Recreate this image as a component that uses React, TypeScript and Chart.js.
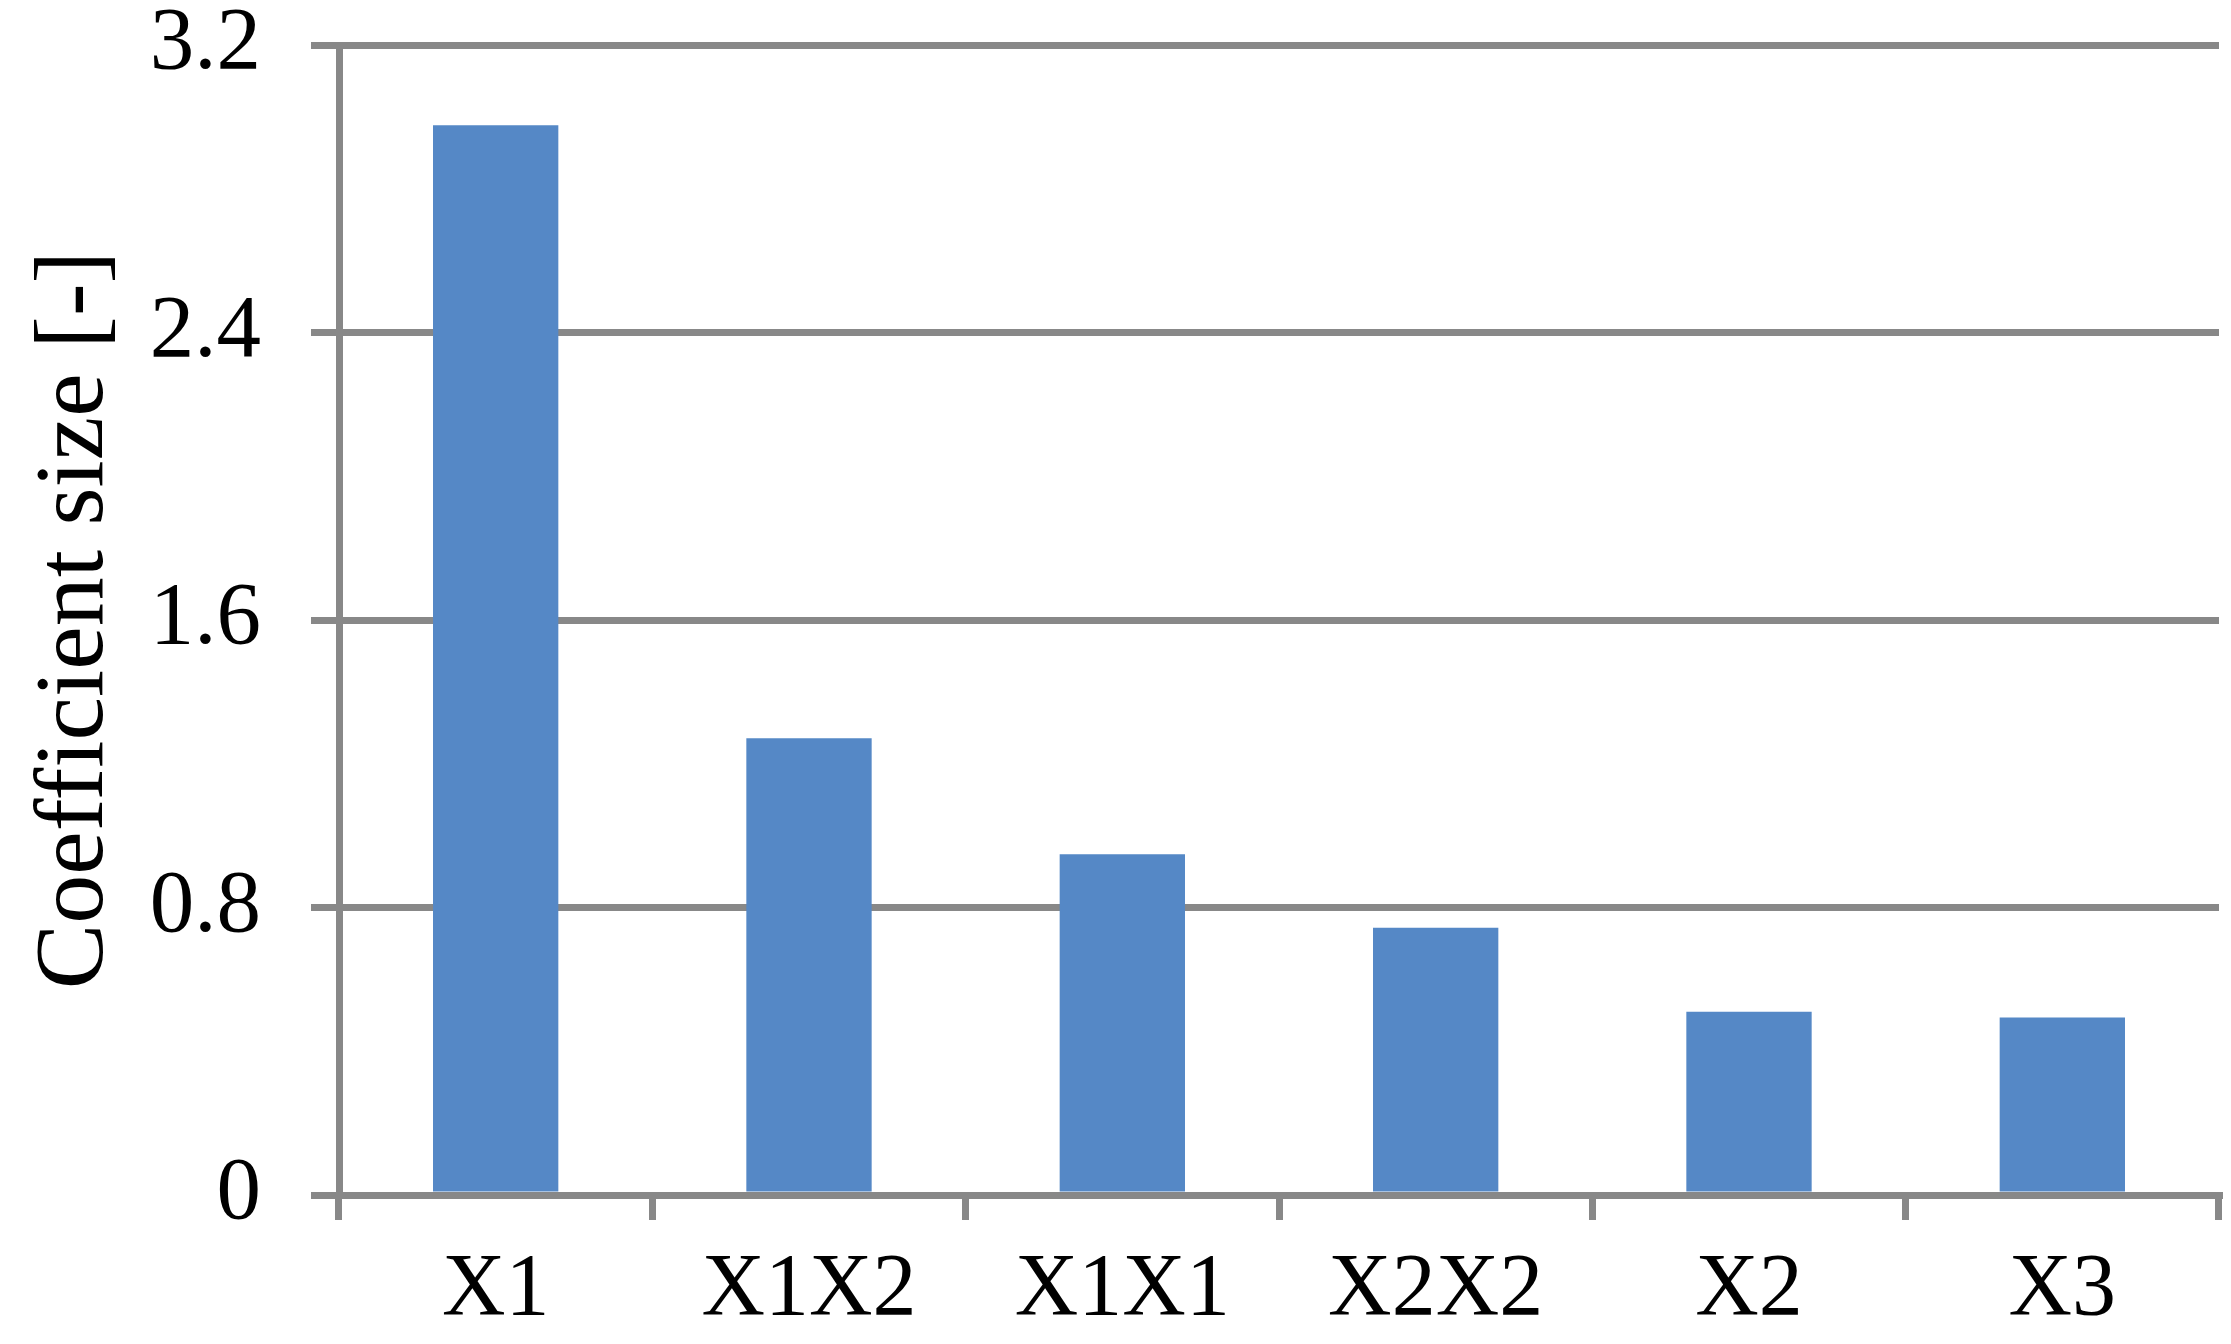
import React, { useEffect, useRef } from "react";
import { Chart, registerables } from "chart.js";

Chart.register(...registerables);

const categories = ["X1", "X1X2", "X1X1", "X2X2", "X2", "X3"];
const coefficientValues = [2.977, 1.271, 0.948, 0.744, 0.51, 0.494];
const yTickValues = [0, 0.8, 1.6, 2.4, 3.2];

const GRID = "#888888";
const BAR = "#5588C6";
const FONT = "'Liberation Serif', 'Times New Roman', serif";

export default function App() {
  const ref = useRef<HTMLCanvasElement | null>(null);

  useEffect(() => {
    if (!ref.current) return;
    const chart = new Chart(ref.current, {
      type: "bar",
      data: {
        labels: categories,
        datasets: [
          {
            data: coefficientValues,
            backgroundColor: BAR,
            borderWidth: 0,
            barPercentage: 0.4,
            categoryPercentage: 1,
          },
        ],
      },
      options: {
        responsive: false,
        animation: false,
        devicePixelRatio: 1,
        layout: { padding: { top: 45, right: 12, left: 0, bottom: 0 } },
        plugins: {
          legend: { display: false },
          tooltip: { enabled: false },
          title: { display: false },
        },
        scales: {
          x: {
            type: "category",
            grid: {
              display: true,
              drawOnChartArea: false,
              drawTicks: true,
              tickLength: 25,
              color: GRID,
              lineWidth: 7,
              offset: true,
            },
            border: { display: true, color: GRID, width: 7 },
            ticks: {
              color: "#000",
              font: { family: FONT, size: 88 },
              padding: 18,
              maxRotation: 0,
              autoSkip: false,
            },
            afterFit: (scale: any) => {
              scale.height = 149;
              scale.paddingLeft = 0;
              scale.paddingRight = 0;
            },
          },
          y: {
            type: "linear",
            min: 0,
            max: 3.2,
            afterBuildTicks: (scale: any) => {
              scale.ticks = yTickValues.map((v) => ({ value: v }));
            },
            grid: {
              display: true,
              drawOnChartArea: true,
              drawTicks: true,
              tickLength: 28,
              color: GRID,
              lineWidth: 7,
            },
            border: { display: true, color: GRID, width: 7 },
            ticks: {
              color: "#000",
              font: { family: FONT, size: 89 },
              padding: 50,
              callback: (v: any) => String(v),
            },
            title: {
              display: true,
              text: "Coefficient size [-]",
              color: "#000",
              font: { family: FONT, size: 98 },
              padding: { top: 17, bottom: 0 },
            },
            afterFit: (scale: any) => {
              scale.width = 339;
              scale.paddingTop = 0;
              scale.paddingBottom = 0;
            },
          },
        },
      },
    });
    return () => chart.destroy();
  }, []);

  return (
    <div style={{ position: "absolute", left: 0, top: 0, width: 2231, height: 1344, background: "#fff" }}>
      <canvas ref={ref} width={2231} height={1344} style={{ width: 2231, height: 1344, display: "block" }} />
    </div>
  );
}
